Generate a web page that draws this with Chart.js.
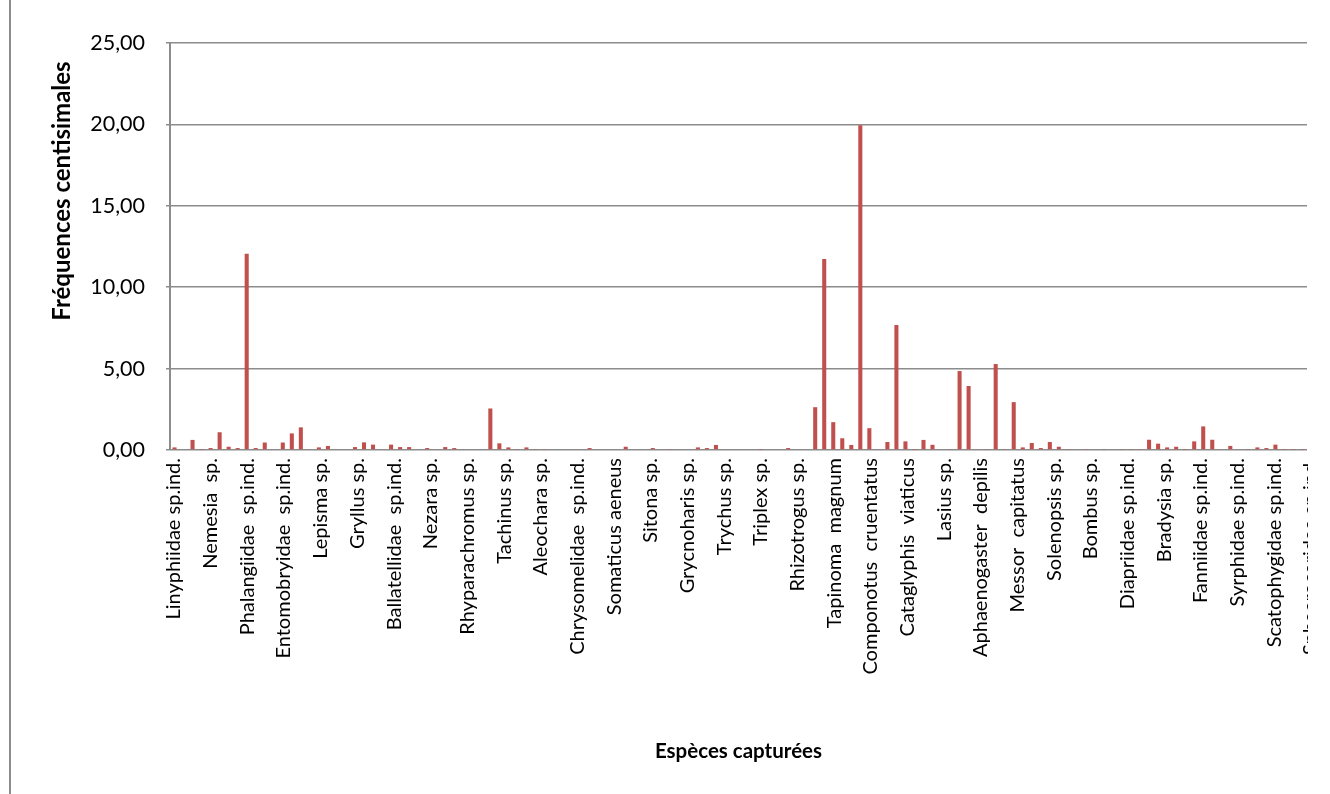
<!DOCTYPE html>
<html>
<head>
<meta charset="utf-8">
<script src="https://cdn.jsdelivr.net/npm/chart.js@4"></script>
<style>
  html, body { margin: 0; padding: 0; background: #fff; }
  #frame { position: absolute; left: 0; top: 0; width: 1308px; height: 794px; overflow: hidden; }
  #edge { position: absolute; left: 9px; top: 0; width: 2px; height: 794px; background: #8c8c8c; }
</style>
</head>
<body>
<div id="frame"><canvas id="freqChart" width="1330" height="794"></canvas></div>
<div id="edge"></div>
<script>
// species shown on the axis (one name every 4 species)
const speciesNames = [
  'Linyphiidae sp.ind.', 'Nemesia  sp.', 'Phalangiidae  sp.ind.', 'Entomobryidae  sp.ind.',
  'Lepisma sp.', 'Gryllus sp.', 'Ballatellidae  sp.ind.', 'Nezara sp.',
  'Rhyparachromus sp.', 'Tachinus sp.', 'Aleochara sp.', 'Chrysomelidae  sp.ind.',
  'Somaticus aeneus', 'Sitona sp.', 'Grycnoharis sp.', 'Trychus sp.',
  'Triplex sp.', 'Rhizotrogus sp.', 'Tapinoma  magnum', 'Componotus  cruentatus',
  'Cataglyphis  viaticus', 'Lasius sp.', 'Aphaenogaster  depilis', 'Messor  capitatus',
  'Solenopsis sp.', 'Bombus sp.', 'Diapriidae sp.ind.', 'Bradysia sp.',
  'Fanniidae sp.ind.', 'Syrphidae sp.ind.', 'Scatophygidae sp.ind.', 'Sphaeroceridae sp.ind.'
];

// fréquences centisimales, one value per species (126)
const frequencies = [
  0.16, 0, 0.62, 0.02, 0.12, 1.09, 0.20, 0.12, 12.05, 0.12,
  0.46, 0, 0.46, 1.02, 1.39, 0, 0.16, 0.25, 0, 0,
  0.18, 0.47, 0.33, 0, 0.33, 0.18, 0.18, 0, 0.12, 0,
  0.18, 0.12, 0.05, 0, 0, 2.55, 0.41, 0.16, 0.03, 0.16,
  0.03, 0.03, 0, 0, 0, 0, 0.12, 0, 0, 0,
  0.20, 0, 0, 0.12, 0, 0.03, 0, 0, 0.16, 0.12,
  0.31, 0, 0, 0, 0, 0.02, 0, 0, 0.12, 0,
  0, 2.63, 11.73, 1.71, 0.72, 0.31, 19.95, 1.34, 0, 0.49,
  7.68, 0.53, 0.02, 0.62, 0.32, 0, 0.03, 4.85, 3.93, 0,
  0.03, 5.28, 0.03, 2.94, 0.16, 0.43, 0.12, 0.49, 0.20, 0.03,
  0, 0.03, 0, 0.03, 0, 0.03, 0.03, 0.03, 0.63, 0.39,
  0.16, 0.20, 0.02, 0.53, 1.45, 0.63, 0, 0.25, 0, 0.03,
  0.16, 0.12, 0.33, 0.02, 0.02, 0.02
];

const speciesRank = frequencies.map((v, i) => String(i + 1));

const yTitle = 'Fréquences centisimales';
const xTitle = 'Espèces capturées';
const barColor = '#C0504D';
const gridColor = '#8c8c8c';

// y title drawn by hand so it sits where the original has it
const yTitlePlugin = {
  id: 'yTitle',
  afterDraw(chart) {
    const ctx = chart.ctx;
    const area = chart.chartArea;
    ctx.save();
    ctx.translate(62, area.top + 148);
    ctx.rotate(-Math.PI / 2);
    ctx.font = 'bold 24px Lato';
    ctx.fillStyle = '#000';
    ctx.textAlign = 'center';
    ctx.textBaseline = 'middle';
    ctx.fillText(yTitle, 0, 0);
    ctx.restore();
  }
};

const ctx = document.getElementById('freqChart').getContext('2d');
const freqChart = new Chart(ctx, {
  type: 'bar',
  data: {
    labels: speciesRank,
    datasets: [{
      label: yTitle,
      data: frequencies,
      backgroundColor: barColor,
      borderWidth: 0,
      barPercentage: 0.45,
      categoryPercentage: 1
    }]
  },
  options: {
    responsive: false,
    animation: false,
    layout: { padding: { top: 43, right: 23, bottom: 0, left: 0 } },
    plugins: { legend: { display: false }, tooltip: { enabled: false } },
    scales: {
      x: { display: false },
      names: {
        type: 'category',
        labels: speciesNames,
        position: 'bottom',
        offset: false,
        grid: { display: false, drawTicks: false },
        border: { display: false },
        ticks: {
          autoSkip: false,
          minRotation: 90,
          maxRotation: 90,
          padding: 8,
          labelOffset: 4,
          color: '#000',
          font: { family: 'Lato', size: 20 }
        },
        title: {
          display: true,
          text: xTitle,
          color: '#000',
          font: { family: 'Lato', size: 20.5, weight: 'bold' },
          padding: { top: 0, bottom: 30 }
        },
        afterFit(scale) {
          scale.height = 344;
          scale.paddingLeft = 0;
          scale.paddingRight = 0;
        }
      },
      y: {
        min: 0,
        max: 25,
        ticks: {
          stepSize: 5,
          padding: 21,
          color: '#000',
          font: { family: 'Lato', size: 21.5 },
          callback: (v) => v.toFixed(2).replace('.', ',')
        },
        grid: { color: gridColor, lineWidth: 1.5, tickLength: 4 },
        border: { color: gridColor, width: 2 },
        afterFit(scale) { scale.width = 170; }
      }
    }
  },
  plugins: [yTitlePlugin]
});
</script>
</body>
</html>
